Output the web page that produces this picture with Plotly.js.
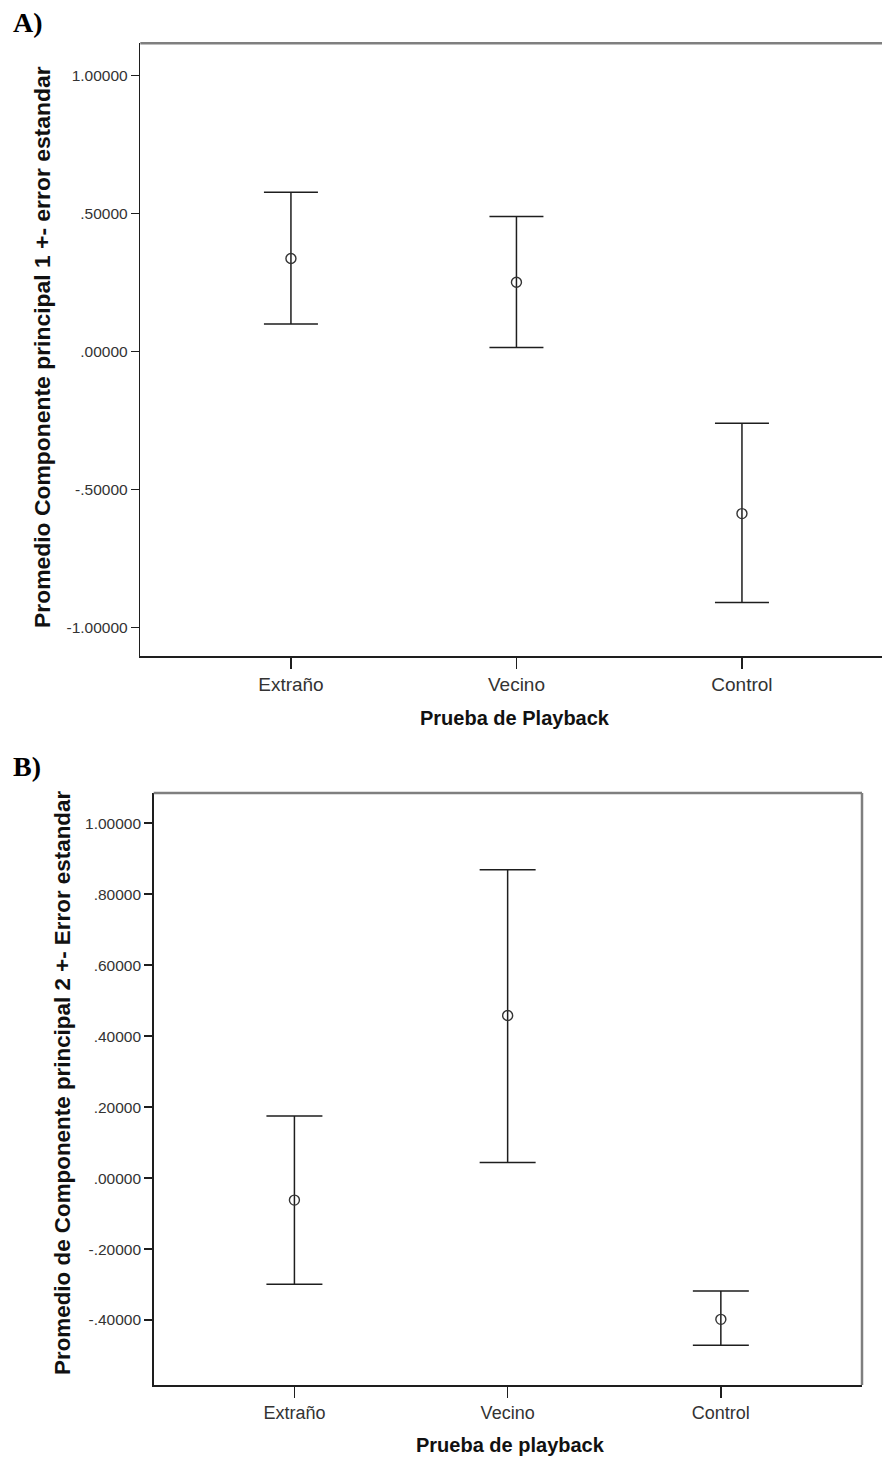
<!DOCTYPE html>
<html>
<head>
<meta charset="utf-8">
<script src="https://cdn.plot.ly/plotly-3.0.1.min.js"></script>
<style>html,body{margin:0;padding:0;background:#fff;}#chart{width:882px;height:1458px;}</style>
</head>
<body>
<div id="chart"></div>
<script>
// Categories
const categories = ["Extraño", "Vecino", "Control"];

// Panel A: Componente principal 1 (mean, upper = mean+SE, lower = mean-SE)
const meanA  = [0.336, 0.250, -0.588];
const upperA = [0.576, 0.488, -0.261];
const lowerA = [0.099, 0.014, -0.910];

// Panel B: Componente principal 2
const meanB  = [-0.062, 0.458, -0.398];
const upperB = [0.175, 0.869, -0.318];
const lowerB = [-0.299, 0.044, -0.471];

// Tick labels
const tickValsA = [1, 0.5, 0, -0.5, -1];
const tickTextA = ["1.00000", ".50000", ".00000", "-.50000", "-1.00000"];
const tickValsB = [1, 0.8, 0.6, 0.4, 0.2, 0, -0.2, -0.4];
const tickTextB = ["1.00000", ".80000", ".60000", ".40000", ".20000", ".00000", "-.20000", "-.40000"];

const lineCol = "#1e1e1e";
const textCol = "#333333";

function trace(means, up, lo, xa, ya, capw) {
  return {
    type: "scatter", mode: "markers",
    x: categories, y: means, xaxis: xa, yaxis: ya,
    marker: {symbol: "circle-open", size: 10, color: "#333", line: {width: 1.4, color: "#333"}},
    error_y: {
      type: "data", symmetric: false,
      array: up.map((u, i) => u - means[i]),
      arrayminus: lo.map((l, i) => means[i] - l),
      color: lineCol, thickness: 1.5, width: capw
    },
    showlegend: false, hoverinfo: "skip"
  };
}

const data = [
  trace(meanA, upperA, lowerA, "x", "y", 27),
  trace(meanB, upperB, lowerB, "x2", "y2", 28)
];

const H = 1458, W = 882;
const fy = px => 1 - px / H;
const fx = px => px / W;

const xBase = {
  type: "category", showgrid: false, zeroline: false,
  showline: true, linecolor: lineCol, linewidth: 1.5,
  ticks: "outside", ticklen: 11, tickwidth: 1.5, tickcolor: lineCol,
  tickfont: {family: "Liberation Sans, Arial, sans-serif", size: 19, color: textCol},
  automargin: false, fixedrange: true
};
const yBase = {
  showgrid: false, zeroline: false,
  showline: true, linecolor: lineCol, linewidth: 1.5,
  ticks: "outside", ticklen: 8, tickwidth: 1.5, tickcolor: lineCol,
  tickfont: {family: "Liberation Sans, Arial, sans-serif", size: 15.5, color: textCol},
  automargin: false, fixedrange: true, tickmode: "array"
};

const layout = {
  width: W, height: H,
  margin: {l: 0, r: 0, t: 0, b: 0},
  paper_bgcolor: "#fff", plot_bgcolor: "#fff",
  xaxis: Object.assign({}, xBase, {domain: [fx(140.3), 1], range: [-0.668, 2.621], anchor: "y"}),
  yaxis: Object.assign({}, yBase, {domain: [fy(656), fy(43.3)], range: [-1.104, 1.116],
    tickvals: tickValsA, ticktext: tickTextA, anchor: "x"}),
  xaxis2: Object.assign({}, xBase, {domain: [fx(153.7), fx(862)], range: [-0.660, 2.662], anchor: "y2",
    tickfont: {family: "Liberation Sans, Arial, sans-serif", size: 18, color: textCol}}),
  yaxis2: Object.assign({}, yBase, {domain: [fy(1385), fy(793)], range: [-0.583, 1.085],
    tickvals: tickValsB, ticktext: tickTextB, anchor: "x2"}),
  shapes: [
    {type: "line", xref: "x domain", yref: "y domain", x0: 0, x1: 1, y0: 1, y1: 1,
     line: {color: "#7f7f7f", width: 2.5}},
    {type: "line", xref: "x2 domain", yref: "y2 domain", x0: 0, x1: 1, y0: 1, y1: 1,
     line: {color: "#7f7f7f", width: 2.5}},
    {type: "line", xref: "x2 domain", yref: "y2 domain", x0: 1, x1: 1, y0: 0, y1: 1,
     line: {color: "#7f7f7f", width: 2.5}}
  ],
  annotations: [
    {text: "<b>A)</b>", xref: "paper", yref: "paper", x: fx(11), y: fy(23), xanchor: "left", yanchor: "middle",
     showarrow: false, font: {family: "Liberation Serif, Times New Roman, serif", size: 28, color: "#000"}},
    {text: "<b>B)</b>", xref: "paper", yref: "paper", x: fx(11), y: fy(767), xanchor: "left", yanchor: "middle",
     showarrow: false, font: {family: "Liberation Serif, Times New Roman, serif", size: 28, color: "#000"}},
    {text: "<b>Promedio Componente principal 1 +- error estandar</b>", xref: "paper", yref: "paper",
     x: fx(42), y: fy(347), xanchor: "center", yanchor: "middle", textangle: -90, showarrow: false,
     font: {family: "Liberation Sans, Arial, sans-serif", size: 22.9, color: "#111"}},
    {text: "<b>Promedio de Componente principal 2 +- Error estandar</b>", xref: "paper", yref: "paper",
     x: fx(62), y: fy(1083), xanchor: "center", yanchor: "middle", textangle: -90, showarrow: false,
     font: {family: "Liberation Sans, Arial, sans-serif", size: 22.4, color: "#111"}},
    {text: "<b>Prueba de Playback</b>", xref: "paper", yref: "paper",
     x: fx(515), y: fy(718), xanchor: "center", yanchor: "middle", showarrow: false,
     font: {family: "Liberation Sans, Arial, sans-serif", size: 20, color: "#111"}},
    {text: "<b>Prueba de playback</b>", xref: "paper", yref: "paper",
     x: fx(510), y: fy(1445), xanchor: "center", yanchor: "middle", showarrow: false,
     font: {family: "Liberation Sans, Arial, sans-serif", size: 20, color: "#111"}}
  ]
};

Plotly.newPlot("chart", data, layout, {staticPlot: true, displayModeBar: false});
</script>
</body>
</html>
